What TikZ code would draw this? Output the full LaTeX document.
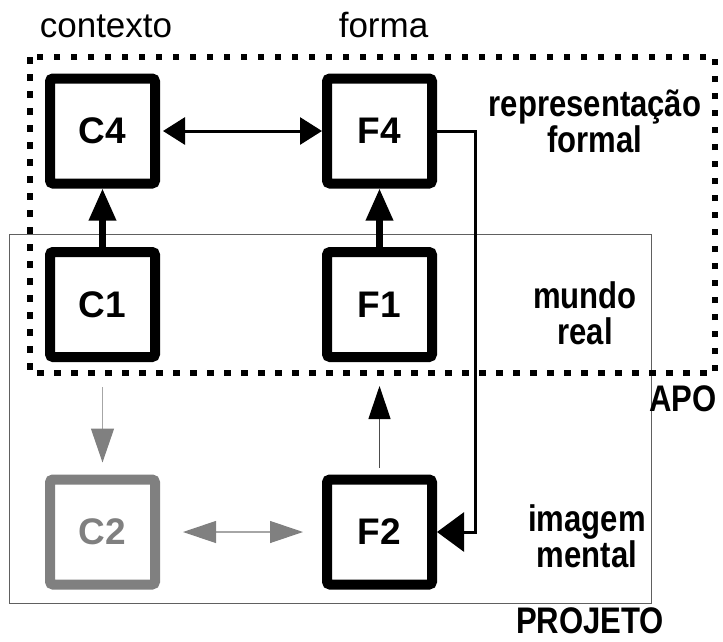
\documentclass[tikz,border=0pt]{standalone}
\usepackage{fontspec}
\setmainfont{Liberation Sans}
\newfontfamily\narrowsf{Liberation Sans}[FakeStretch=0.84]
\usetikzlibrary{arrows.meta,positioning}
\definecolor{boxgray}{HTML}{808080}
\definecolor{softline}{HTML}{A6A6A6}
\definecolor{framegray}{HTML}{606060}

\begin{document}
\begin{tikzpicture}[x=1pt,y=-1pt,
    stage/.style={draw,line width=10pt,rounded corners=3pt,minimum width=105pt,
      minimum height=105pt,inner sep=0pt,font=\fontsize{37}{40}\selectfont\bfseries},
    tag/.style={font=\narrowsf\fontsize{37}{36}\selectfont\bfseries,align=center},
    heading/.style={font=\fontsize{35}{40}\selectfont},
    bigup/.style={line width=6.5pt,-{Triangle[length=32pt,width=26pt]}},
    twohead/.style={line width=3pt,{Triangle[length=22pt,width=27pt]}-{Triangle[length=22pt,width=27pt]}},
    softarrow/.style={draw=softline,line width=1.2pt,-{Triangle[length=34pt,width=23pt,color=boxgray]}},
    softboth/.style={draw=softline,line width=1.2pt,
      {Triangle[length=33pt,width=22pt,color=boxgray]}-{Triangle[length=33pt,width=22pt,color=boxgray]}},
    thinup/.style={draw=black!70,line width=1.2pt,-{Triangle[length=33pt,width=22pt,color=black]}},
    elbow/.style={line width=3pt,-{Triangle[length=27pt,width=39pt]}}]
  \useasboundingbox (0,0) rectangle (723,641);
  % frames
  \draw[framegray,line width=1pt] (9,234) rectangle (651,603);
  \draw[line width=6.5pt,dash pattern=on 6.5pt off 10.5pt] (30,57) rectangle (715,373);
  % column heads
  \node[heading,anchor=base] (ctx) at (106,37) {contexto};
  \node[heading,anchor=base] (frm) at (383.5,37) {forma};
  % stages
  \node[stage] (c4) at (102.5,131) {C4};
  \node[stage] (f4) at (379.5,131) {F4};
  \node[stage] (c1) at (102.5,304.5) {C1};
  \node[stage] (f1) at (379.5,304.5) {F1};
  \node[stage,boxgray] (c2) at (102.5,532) {C2};
  \node[stage] (f2) at (379.5,532) {F2};
  % row tags (base = last line)
  \node[tag,anchor=base] (rep) at (595,152) {representação\\formal};
  \node[tag,anchor=base] (mun) at (585,344) {mundo\\real};
  \node[tag,anchor=base] (img) at (587,567) {imagem\\mental};
  \node[tag,anchor=base] (apo) at (683,411) {APO};
  \node[tag,anchor=base] (prj) at (590,633) {PROJETO};
  % connectors
  \draw[bigup] (c1) -- (c4);
  \draw[bigup] (f1) -- (f4);
  \draw[twohead,shorten <=3pt] (c4) -- (f4);
  \draw[softarrow,shorten <=25pt,shorten >=12pt] (c1) -- (c2);
  \draw[softboth,shorten <=23pt,shorten >=19pt] (c2) -- (f2);
  \draw[thinup,shorten <=7pt,shorten >=24pt] (f2) -- (f1);
  \draw[elbow] (f4.east) -- ++(38,0) |- (f2.east);
\end{tikzpicture}
\end{document}
